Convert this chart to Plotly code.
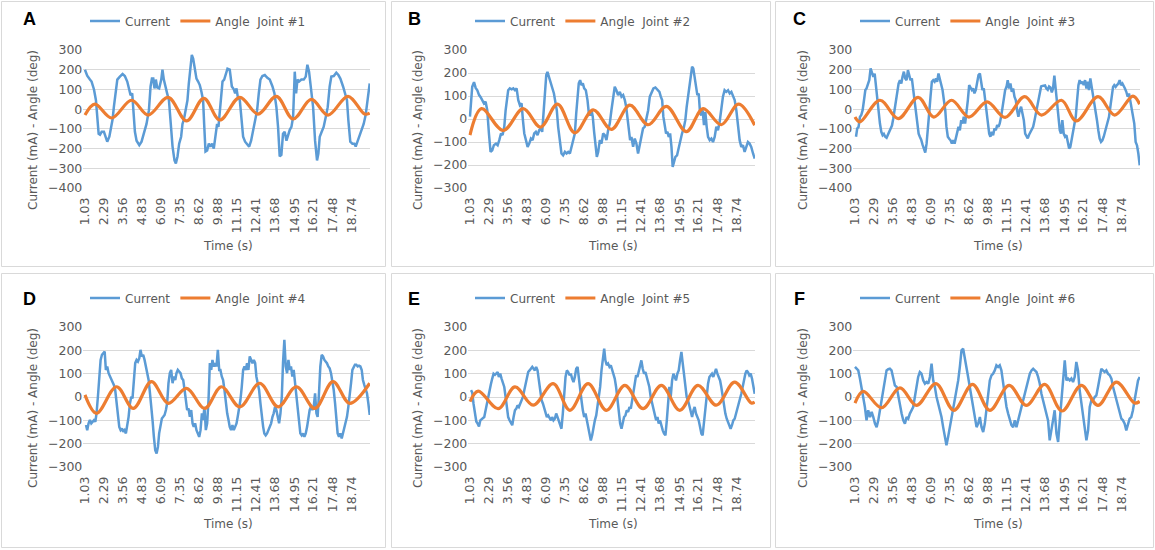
import plotly.graph_objects as go

W, H = 1155, 550
BLUE = "#5B9BD5"
ORANGE = "#ED7D31"
GREY_TXT = "#595959"
GRID = "#D9D9D9"
FONT = "DejaVu Sans"

# ---------------- tick labels (category axis) ----------------
tick_times = [1.03, 2.29, 3.56, 4.83, 6.09, 7.35, 8.62, 9.88, 11.15, 12.41,
              13.68, 14.95, 16.21, 17.48, 18.74]
tick_labels = ["1.03", "2.29", "3.56", "4.83", "6.09", "7.35", "8.62", "9.88",
               "11.15", "12.41", "13.68", "14.95", "16.21", "17.48", "18.74"]
letters = ["A", "B", "C", "D", "E", "F"]
joints = ["#1", "#2", "#3", "#4", "#5", "#6"]
y_min = [-400, -300, -400, -300, -300, -300]
y_max = [300, 300, 300, 300, 300, 300]

# ---------------- Panel A ----------------
t_cur_A = [1.03, 1.18, 1.36, 1.47, 1.63, 1.76, 1.85, 1.94, 2.03, 2.14,
           2.29, 2.42, 2.51, 2.65, 2.76, 2.87, 2.95, 3.07, 3.18, 3.35,
           3.53, 3.68, 3.84, 3.97, 4.06, 4.17, 4.24, 4.35, 4.46, 4.64,
           4.79, 4.95, 5.12, 5.28, 5.39, 5.48, 5.57, 5.65, 5.74, 5.83,
           5.96, 6.10, 6.18, 6.27, 6.38, 6.49, 6.61, 6.72, 6.85, 6.98,
           7.07, 7.18, 7.29, 7.42, 7.51, 7.60, 7.73, 7.84, 7.93, 8.02,
           8.13, 8.22, 8.33, 8.44, 8.55, 8.66, 8.77, 8.88, 8.95, 9.04,
           9.15, 9.26, 9.37, 9.48, 9.59, 9.70, 9.81, 9.90, 9.99, 10.08,
           10.17, 10.28, 10.39, 10.50, 10.65, 10.79, 10.92, 11.01, 11.10, 11.18,
           11.32, 11.43, 11.54, 11.67, 11.80, 11.94, 12.07, 12.20, 12.34, 12.47,
           12.58, 12.69, 12.82, 12.98, 13.13, 13.31, 13.49, 13.62, 13.75, 13.86,
           13.97, 14.08, 14.19, 14.30, 14.42, 14.53, 14.64, 14.75, 14.86, 14.97,
           15.06, 15.15, 15.26, 15.41, 15.57, 15.70, 15.81, 15.92, 16.05, 16.19,
           16.32, 16.45, 16.54, 16.63, 16.76, 16.89, 17.03, 17.16, 17.29, 17.40,
           17.56, 17.73, 17.87, 18.00, 18.18, 18.31, 18.44, 18.53, 18.66, 18.80,
           18.93, 19.02, 19.15, 19.28, 19.41, 19.55, 19.68, 19.81, 19.95]
current_A = [200, 170, 150, 140, 100, 45, -40, -125, -130, -115,
             -115, -140, -165, -140, -90, -50, 10, 100, 150, 165,
             178, 168, 140, 100, 70, 80, -5, -115, -160, -183,
             -165, -125, -75, -5, 115, 155, 155, 105, 150, 110,
             105, 150, 200, 150, 105, 80, 45, -90, -190, -260,
             -275, -240, -175, -140, -75, -55, -5, 45, 130, 215,
             275, 257, 215, 155, 140, 122, 88, 45, -75, -215,
             -210, -175, -190, -175, -200, -140, -75, -90, -5, 100,
             140, 150, 173, 205, 200, 115, 100, 80, 105, 65,
             45, -40, -140, -165, -175, -190, -160, -105, -55, -5,
             80, 150, 168, 173, 160, 150, 115, 80, 10, -90,
             -240, -232, -125, -115, -160, -125, -105, -90, -40, 190,
             80, 150, 140, 150, 150, 165, 225, 190, 115, 10,
             -160, -260, -225, -140, -115, -90, -40, 10, 115, 165,
             168, 185, 173, 155, 115, 80, 45, -55, -165, -175,
             -175, -190, -160, -130, -105, -75, -30, 45, 130]
t_ang_A = [1.03, 1.69, 2.80, 4.13, 5.23, 6.56, 7.78, 8.93, 9.99, 11.32,
           12.53, 13.75, 14.86, 16.07, 17.18, 18.51, 19.61, 19.95]
angle_A = [-30, 25, -45, 45, -30, 60, -60, 55, -55, 60,
           -25, 65, -50, 50, -30, 65, -25, -20]

# ---------------- Panel B ----------------
t_cur_B = [1.03, 1.10, 1.18, 1.30, 1.41, 1.52, 1.63, 1.74, 1.85, 1.96,
           2.07, 2.18, 2.29, 2.40, 2.51, 2.62, 2.76, 2.87, 2.98, 3.09,
           3.20, 3.31, 3.40, 3.49, 3.57, 3.68, 3.80, 3.91, 4.02, 4.13,
           4.24, 4.35, 4.46, 4.55, 4.64, 4.75, 4.86, 4.97, 5.08, 5.19,
           5.30, 5.41, 5.52, 5.63, 5.74, 5.83, 5.92, 6.01, 6.10, 6.18,
           6.27, 6.38, 6.49, 6.61, 6.72, 6.80, 6.89, 7.00, 7.11, 7.22,
           7.34, 7.45, 7.56, 7.67, 7.78, 7.89, 8.00, 8.09, 8.18, 8.26,
           8.35, 8.44, 8.53, 8.62, 8.73, 8.84, 8.93, 9.02, 9.11, 9.19,
           9.28, 9.37, 9.46, 9.55, 9.66, 9.77, 9.88, 9.99, 10.10, 10.21,
           10.32, 10.43, 10.54, 10.65, 10.76, 10.87, 10.99, 11.10, 11.21, 11.32,
           11.41, 11.49, 11.58, 11.67, 11.76, 11.87, 11.98, 12.09, 12.20, 12.31,
           12.42, 12.53, 12.64, 12.76, 12.87, 12.98, 13.09, 13.22, 13.35, 13.49,
           13.62, 13.71, 13.80, 13.88, 13.97, 14.06, 14.15, 14.24, 14.33, 14.42,
           14.50, 14.59, 14.68, 14.79, 14.90, 15.01, 15.12, 15.23, 15.34, 15.43,
           15.52, 15.61, 15.70, 15.79, 15.87, 15.96, 16.05, 16.14, 16.23, 16.32,
           16.41, 16.49, 16.58, 16.67, 16.76, 16.85, 16.96, 17.07, 17.18, 17.29,
           17.40, 17.51, 17.62, 17.73, 17.84, 17.95, 18.06, 18.18, 18.29, 18.40,
           18.51, 18.62, 18.73, 18.84, 18.95, 19.06, 19.17, 19.28, 19.39, 19.50,
           19.61, 19.72, 19.84, 19.95]
current_B = [10, 95, 140, 160, 135, 125, 105, 95, 80, 68,
             75, 38, -63, -143, -136, -114, -107, -114, -92, -63,
             -70, -34, 38, 89, 125, 133, 129, 133, 125, 133,
             82, 60, 68, -5, -63, -92, -121, -107, -85, -92,
             -63, -56, -70, -49, -41, -56, 24, 111, 191, 205,
             184, 155, 133, 111, 68, 38, -34, -107, -150, -158,
             -143, -150, -143, -150, -121, -92, -63, 24, 97, 155,
             169, 147, 155, 133, 125, 82, 24, 16, 38, 10,
             -56, -121, -165, -143, -92, -107, -63, -70, -92, -49,
             -20, 38, 82, 140, 125, 104, 118, 97, 104, 82,
             53, 10, -49, -92, -78, -121, -85, -107, -150, -114,
             -63, -41, -34, 10, 38, 97, 118, 133, 137, 125,
             118, 97, 82, 10, -34, -63, -56, -78, -63, -121,
             -208, -179, -165, -158, -121, -92, -63, -41, -5, 53,
             97, 140, 184, 227, 220, 176, 140, 104, 111, 24,
             16, 38, -27, 31, -34, -78, -92, -85, -100, -78,
             -34, -49, -13, 53, 97, 125, 118, 125, 111, 118,
             97, 82, 38, -34, -92, -121, -114, -143, -121, -100,
             -107, -121, -150, -172]
t_ang_B = [1.03, 1.80, 3.24, 4.57, 5.72, 6.85, 8.00, 9.22, 10.43, 11.65,
           12.87, 14.08, 15.41, 16.52, 17.73, 18.88, 19.95]
angle_B = [-70, 45, -50, 45, -35, 65, -60, 40, -45, 60,
           -25, 55, -55, 45, -25, 65, -27]

# ---------------- sample times shared by panels C, D, E ----------------
t_samples = [1.10, 1.18, 1.27, 1.36, 1.45, 1.54, 1.63, 1.72, 1.80, 1.89,
             1.98, 2.07, 2.16, 2.25, 2.34, 2.42, 2.51, 2.60, 2.69, 2.78,
             2.87, 2.95, 3.04, 3.13, 3.22, 3.31, 3.40, 3.49, 3.57, 3.66,
             3.75, 3.84, 3.93, 4.02, 4.11, 4.19, 4.28, 4.37, 4.46, 4.55,
             4.64, 4.72, 4.81, 4.90, 4.99, 5.08, 5.17, 5.26, 5.34, 5.43,
             5.52, 5.61, 5.70, 5.79, 5.88, 5.96, 6.05, 6.14, 6.23, 6.32,
             6.41, 6.49, 6.58, 6.67, 6.76, 6.85, 6.94, 7.03, 7.11, 7.20,
             7.29, 7.38, 7.47, 7.56, 7.65, 7.73, 7.82, 7.91, 8.00, 8.09,
             8.18, 8.26, 8.35, 8.44, 8.53, 8.62, 8.71, 8.80, 8.88, 8.97,
             9.06, 9.15, 9.24, 9.33, 9.42, 9.50, 9.59, 9.68, 9.77, 9.86,
             9.95, 10.03, 10.12, 10.21, 10.30, 10.39, 10.48, 10.57, 10.65, 10.74,
             10.83, 10.92, 11.01, 11.10, 11.18, 11.27, 11.36, 11.45, 11.54, 11.63,
             11.72, 11.80, 11.89, 11.98, 12.07, 12.16, 12.25, 12.34, 12.42, 12.51,
             12.60, 12.69, 12.78, 12.87, 12.95, 13.04, 13.13, 13.22, 13.31, 13.40,
             13.49, 13.57, 13.66, 13.75, 13.84, 13.93, 14.02, 14.11, 14.19, 14.28,
             14.37, 14.46, 14.55, 14.64, 14.72, 14.81, 14.90, 14.99, 15.08, 15.17,
             15.26, 15.34, 15.43, 15.52, 15.61, 15.70, 15.79, 15.88, 15.96, 16.05,
             16.14, 16.23, 16.32, 16.41, 16.49, 16.58, 16.67, 16.76, 16.85, 16.94,
             17.03, 17.11, 17.20, 17.29, 17.38, 17.47, 17.56, 17.65, 17.73, 17.82,
             17.91, 18.00, 18.09, 18.18, 18.26, 18.35, 18.44, 18.53, 18.62, 18.71,
             18.80, 18.88, 18.97, 19.06, 19.15, 19.24, 19.33, 19.42, 19.50, 19.59,
             19.68, 19.77, 19.86, 19.95]

# ---------------- Panel C ----------------
current_C = [-140, -98, -90, -40, -30, -5, 45, 97, 105, 122,
             147, 207, 190, 164, 180, 113, 63, -5, -73, -115,
             -132, -126, -140, -145, -128, -107, -100, -83, -50, -5,
             45, 97, 130, 147, 130, 164, 190, 156, 147, 198,
             164, 147, 156, 97, 45, -22, -90, -124, -140, -155,
             -180, -205, -220, -175, -107, -22, 63, 139, 147, 139,
             156, 139, 181, 156, 130, 97, 45, -5, -90, -140,
             -150, -158, -175, -158, -175, -150, -107, -90, -107, -56,
             -73, -39, -73, -22, 45, 122, 105, 97, 105, 80,
             97, 139, 173, 181, 139, 97, 105, 45, -22, -90,
             -124, -140, -115, -132, -98, -107, -81, -90, -73, -39,
             12, 63, 97, 113, 147, 105, 130, 88, 105, 63,
             45, -5, -39, -5, 12, -22, -56, -124, -140, -148,
             -130, -118, -105, -90, -62, -25, 15, 55, 88, 115,
             118, 118, 120, 105, 98, 115, 110, 85, 105, 170,
             100, 12, -73, -107, -124, -56, -124, -140, -132, -175,
             -200, -192, -158, -124, -90, -39, 45, 122, 147, 130,
             139, 122, 147, 105, 139, 97, 156, 113, 71, 45,
             -5, -56, -107, -150, -166, -158, -140, -115, -90, -73,
             -39, 12, 63, 113, 122, 113, 122, 130, 147, 122,
             130, 113, 105, 88, 63, 80, 45, 12, -22, -73,
             -166, -183, -225, -285]
t_ang_C = [1.03, 1.36, 2.69, 3.91, 5.23, 6.27, 7.45, 8.60, 9.81, 11.01,
           12.31, 13.42, 14.75, 15.74, 17.18, 18.29, 19.50, 19.95]
angle_C = [-40, -65, 45, -48, 60, -40, 45, -40, 37, -42,
           63, -30, 45, -60, 63, -30, 66, 25]

# ---------------- Panel D ----------------
current_D = [-120, -142, -113, -99, -113, -106, -99, -106, -70, 1,
             73, 159, 181, 188, 195, 116, 131, 102, 88, 73,
             66, 52, 30, -27, -99, -128, -142, -135, -149, -142,
             -156, -128, -85, -27, 1, -6, 73, 145, 159, 152,
             166, 202, 174, 181, 159, 131, 116, 73, 23, -27,
             -99, -171, -228, -242, -214, -156, -113, -92, -85, -77,
             -56, -27, 59, 102, 116, 59, 88, 73, 102, 116,
             109, 102, 80, 73, 30, -27, -56, -49, -85, -56,
             -113, -128, -113, -142, -156, -171, -142, -70, -99, -42,
             -142, -113, -13, 145, 116, 159, 131, 145, 131, 202,
             116, 116, 88, 73, 30, -27, -70, -99, -128, -142,
             -120, -142, -128, -113, -85, -56, -13, 44, 116, 131,
             116, 145, 116, 174, 159, 145, 159, 145, 88, 59,
             30, -27, -85, -128, -156, -164, -156, -142, -128, -113,
             -85, -70, -42, -56, -85, -113, -70, 1, 145, 245,
             131, 102, 159, 116, 131, 88, 116, 59, 16, -56,
             -128, -156, -164, -156, -171, -156, -128, -85, -56, -42,
             -56, -42, 16, -70, -85, 16, 131, 181, 174, 159,
             152, 145, 131, 123, 102, 73, 30, -27, -113, -156,
             -171, -156, -178, -156, -128, -113, -85, -42, 1, 59,
             116, 131, 138, 138, 131, 134, 131, 116, 73, 52,
             30, 16, -27, -77]
t_ang_D = [1.03, 1.80, 3.13, 4.24, 5.45, 6.56, 7.78, 8.99, 10.10, 11.32,
           12.64, 13.86, 15.08, 16.30, 17.51, 18.62, 19.95]
angle_D = [9, -70, 44, -49, 66, -27, 37, -49, 44, -42,
           59, -42, 44, -49, 66, -27, 59]

# ---------------- Panel E ----------------
current_E = [29, 20, -30, -80, -105, -114, -126, -100, -95, -90,
             -86, -57, -25, 5, 30, 55, 79, 100, 95, 100,
             107, 86, 100, 79, 57, 43, 0, -43, -86, -100,
             -114, -121, -86, -57, -50, -36, -43, -29, -21, 0,
             29, 57, 86, 107, 114, 121, 129, 121, 114, 129,
             114, 71, 29, -14, -29, -50, -71, -86, -79, -93,
             -100, -86, -100, -93, -71, -86, -107, -129, -136, -71,
             14, 86, 114, 107, 93, 100, 79, 64, 86, 121,
             129, 79, 29, -14, -57, -86, -71, -100, -129, -157,
             -186, -164, -129, -100, -79, -43, -14, 43, 114, 171,
             207, 157, 136, 143, 129, 136, 114, 100, 79, 43,
             -14, -71, -114, -136, -114, -86, -79, -57, -64, -43,
             -50, -14, 29, 71, 93, 86, 114, 129, 157, 121,
             100, 107, 86, 71, 43, 0, -29, -43, -71, -100,
             -86, -114, -100, -129, -143, -157, -164, -100, -29, 43,
             0, 71, 100, 86, 71, 100, 114, 157, 193, 143,
             86, 43, 0, -14, -43, -71, -86, -57, -43, -71,
             -86, -100, -129, -157, -164, -100, -43, 14, 57, 86,
             93, 100, 86, 107, 121, 100, 86, 71, 43, 0,
             -43, -71, -93, -107, -121, -136, -121, -100, -93, -71,
             -57, -36, -14, 14, 43, 79, 100, 114, 107, 93,
             100, 79, 43, 14]
t_ang_E = [1.03, 1.58, 2.91, 4.02, 5.23, 6.56, 7.67, 8.88, 10.10, 11.32,
           12.53, 13.75, 14.97, 16.18, 17.40, 18.62, 19.72, 19.95]
angle_E = [-20, 25, -50, 43, -35, 57, -57, 57, -57, 50,
           -50, 50, -57, 50, -35, 64, -26, -22]

# ---------------- Panel F ----------------
t_cur_F = [1.03, 1.14, 1.25, 1.36, 1.47, 1.58, 1.69, 1.80, 1.91, 2.03,
           2.14, 2.25, 2.36, 2.47, 2.58, 2.69, 2.80, 2.91, 3.02, 3.13,
           3.24, 3.35, 3.46, 3.57, 3.68, 3.80, 3.91, 4.02, 4.13, 4.24,
           4.35, 4.46, 4.57, 4.68, 4.79, 4.90, 5.01, 5.12, 5.23, 5.34,
           5.45, 5.57, 5.68, 5.79, 5.90, 6.01, 6.12, 6.23, 6.34, 6.45,
           6.56, 6.67, 6.78, 6.89, 7.00, 7.11, 7.22, 7.34, 7.45, 7.56,
           7.67, 7.78, 7.89, 8.00, 8.11, 8.22, 8.33, 8.44, 8.55, 8.66,
           8.77, 8.88, 8.99, 9.11, 9.22, 9.33, 9.44, 9.55, 9.66, 9.77,
           9.88, 9.99, 10.10, 10.21, 10.32, 10.43, 10.54, 10.65, 10.76, 10.88,
           10.99, 11.10, 11.21, 11.32, 11.43, 11.54, 11.65, 11.76, 11.87, 11.98,
           12.09, 12.20, 12.31, 12.42, 12.53, 12.65, 12.76, 12.87, 12.98, 13.09,
           13.20, 13.31, 13.42, 13.53, 13.64, 13.75, 13.86, 13.97, 14.08, 14.19,
           14.30, 14.42, 14.53, 14.64, 14.75, 14.86, 14.97, 15.08, 15.19, 15.30,
           15.41, 15.52, 15.63, 15.74, 15.85, 15.96, 16.07, 16.19, 16.30, 16.41,
           16.52, 16.63, 16.74, 16.85, 16.96, 17.07, 17.18, 17.29, 17.40, 17.51,
           17.62, 17.73, 17.84, 17.96, 18.07, 18.18, 18.29, 18.40, 18.51, 18.62,
           18.73, 18.84, 18.95, 19.06, 19.17, 19.28, 19.39, 19.50, 19.61, 19.73,
           19.84, 19.95]
current_F = [129, 121, 114, 79, 43, 0, -43, -100, -57, -86,
             -64, -86, -114, -129, -100, -57, -14, 43, 86, 114,
             119, 121, 114, 86, 50, 43, 0, -29, -71, -100,
             -114, -86, -93, -71, -57, -43, 0, 43, 86, 107,
             100, 71, 57, 64, 57, 86, 143, 71, 43, 0,
             -29, -57, -86, -129, -171, -207, -171, -129, -86, -43,
             0, 29, 71, 129, 200, 207, 171, 129, 86, 43,
             0, -43, -100, -129, -114, -86, -129, -150, -114, -43,
             14, 71, 93, 100, 114, 136, 129, 136, 114, 57,
             0, -43, -71, -100, -121, -129, -100, -129, -100, -71,
             -43, -14, 14, 43, 71, 100, 114, 121, 114, 107,
             86, 57, 14, -14, -43, -71, -100, -186, -143, -100,
             -57, -157, -193, -100, -14, 71, 157, 71, 79, 71,
             79, 64, 86, 150, 114, 29, -29, -71, -129, -186,
             -143, -43, -14, -14, 0, 7, 43, 86, 121, 114,
             107, 114, 100, 93, 79, 43, 14, -14, -43, -71,
             -93, -100, -114, -143, -114, -93, -86, -57, -14, 29,
             71, 86]
t_ang_F = [1.03, 1.58, 2.80, 4.02, 5.12, 6.41, 7.60, 8.84, 9.99, 11.27,
           12.42, 13.64, 14.79, 16.07, 17.18, 18.40, 19.61, 19.95]
angle_F = [-26, 24, -46, 39, -36, 57, -57, 54, -57, 50,
           -36, 54, -60, 50, -36, 64, -26, -19]

current_times = [t_cur_A, t_cur_B, t_samples, t_samples, t_samples, t_cur_F]
current_vals = [current_A, current_B, current_C, current_D, current_E, current_F]
angle_times = [t_ang_A, t_ang_B, t_ang_C, t_ang_D, t_ang_E, t_ang_F]
angle_vals = [angle_A, angle_B, angle_C, angle_D, angle_E, angle_F]

# ---------------- layout geometry (pixels) ----------------
col_off = [0, 385, 770]
rows = [
    dict(plot_top=50, plot_bot=188, letter_y=18.5, legend_y=21, ytitle_y=130, xtitle_y=246),
    dict(plot_top=327, plot_bot=467, letter_y=298.5, legend_y=298, ytitle_y=408, xtitle_y=524),
]
boxes_x = [(1.5, 385.5), (391.5, 770.5), (775.5, 1153.5)]
boxes_y = [(1.5, 266.5), (273.5, 547.5)]


def fx(p):
    return p / W


def fy(p):
    return 1 - p / H


fig = go.Figure()
layout = dict(
    width=W, height=H, margin=dict(l=0, r=0, t=0, b=0, pad=0, autoexpand=False),
    autosize=False,
    paper_bgcolor="white", plot_bgcolor="white",
    showlegend=True, annotations=[], shapes=[],
    font=dict(family=FONT, color=GREY_TXT, size=12),
)

for i in range(6):
    r, c = divmod(i, 3)
    geo = rows[r]
    ox = col_off[c]
    sfx = "" if i == 0 else str(i + 1)
    xname, yname, lname = "x" + sfx, "y" + sfx, "legend" + sfx

    fig.add_trace(go.Scatter(
        x=current_times[i], y=current_vals[i], mode="lines", name="Current",
        line=dict(color=BLUE, width=2.5), xaxis=xname, yaxis=yname,
        legend=lname, hoverinfo="skip"))
    fig.add_trace(go.Scatter(
        x=angle_times[i], y=angle_vals[i], mode="lines",
        name="Angle\u00a0 Joint " + joints[i],
        line=dict(color=ORANGE, width=3.2, shape="spline", smoothing=1.0),
        xaxis=xname, yaxis=yname, legend=lname, hoverinfo="skip"))

    layout["xaxis" + sfx] = dict(
        domain=[fx(ox + 83.3), fx(ox + 370)], anchor=yname, automargin=False,
        range=[0.92, 19.97], tickmode="array", tickvals=tick_times,
        ticktext=tick_labels, tickangle=-90, showgrid=False, zeroline=False,
        showline=False, ticks="", ticklabelstandoff=6,
        tickfont=dict(family=FONT, size=12.5, color=GREY_TXT), fixedrange=True)
    layout["yaxis" + sfx] = dict(
        domain=[fy(geo["plot_bot"]), fy(geo["plot_top"])], anchor=xname,
        automargin=False,
        range=[y_min[i], y_max[i]], dtick=100, tick0=0, showgrid=True,
        gridcolor=GRID, gridwidth=1, zeroline=False, showline=False, ticks="",
        tickfont=dict(family=FONT, size=12.5, color=GREY_TXT), fixedrange=True)
    layout[lname] = dict(
        orientation="h", x=fx(ox + 85), y=fy(geo["legend_y"]),
        xanchor="left", yanchor="middle", bgcolor="rgba(0,0,0,0)",
        font=dict(family=FONT, size=12, color=GREY_TXT), traceorder="normal")

    layout["annotations"] += [
        dict(text="<b>" + letters[i] + "</b>", x=fx(ox + 29), y=fy(geo["letter_y"]),
             xref="paper", yref="paper", showarrow=False,
             xanchor="center", yanchor="middle",
             font=dict(family="Liberation Sans", size=18, color="black")),
        dict(text="Current (mA) - Angle (deg)", textangle=-90,
             x=fx(ox + 33), y=fy(geo["ytitle_y"]), xref="paper", yref="paper",
             xanchor="center", yanchor="middle",
             showarrow=False, font=dict(family=FONT, size=12, color=GREY_TXT)),
        dict(text="Time (s)", x=fx(ox + 228), y=fy(geo["xtitle_y"]),
             xref="paper", yref="paper", showarrow=False,
             xanchor="center", yanchor="middle",
             font=dict(family=FONT, size=12, color=GREY_TXT)),
    ]
    bx0, bx1 = boxes_x[c]
    by0, by1 = boxes_y[r]
    layout["shapes"].append(dict(
        type="rect", xref="paper", yref="paper",
        x0=fx(bx0), x1=fx(bx1), y0=fy(by1), y1=fy(by0),
        line=dict(color="#D9D9D9", width=1), fillcolor="rgba(0,0,0,0)", layer="below"))

fig.update_layout(**layout)
fig.write_html(
    "out.html",
    config={"displayModeBar": False, "responsive": False},
    post_script="document.body.style.margin='0';document.body.style.padding='0';"
                "document.documentElement.style.overflow='hidden';",
)
